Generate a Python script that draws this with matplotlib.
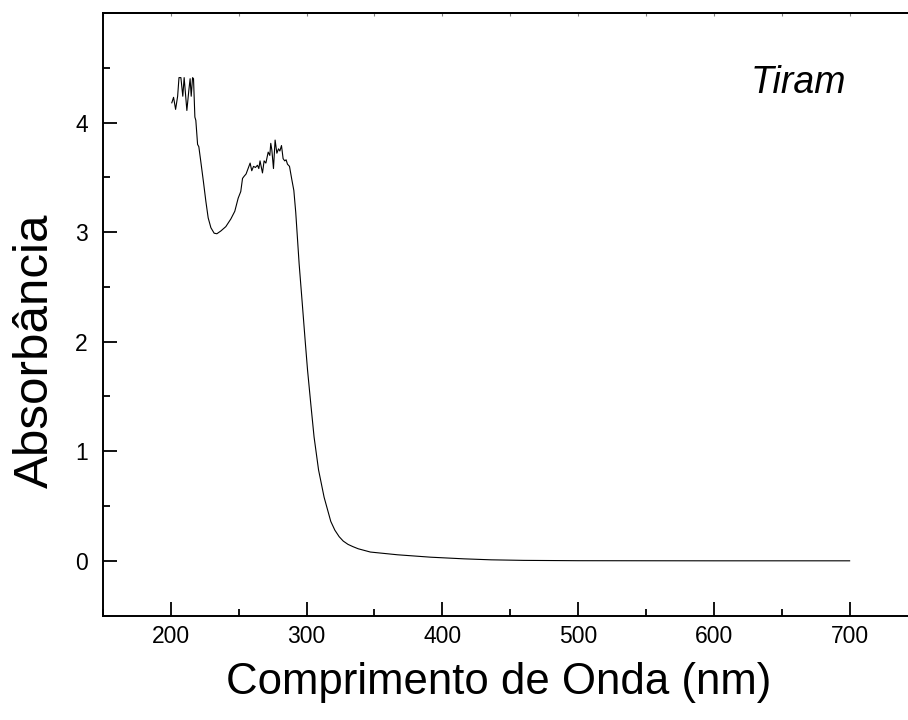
import matplotlib.pyplot as plt
from matplotlib.ticker import MultipleLocator

plt.rcParams['font.family'] = ['Liberation Sans', 'DejaVu Sans']

# espectro UV-Vis do Tiram
comprimento = [200.7, 202.0, 203.5, 205.0, 206.0, 207.4, 208.8, 209.8, 211.8, 213.3,
               214.2, 215.0, 216.0, 216.7, 217.7, 218.4, 219.7, 220.6, 222.0, 224.0,
               225.8, 227.5, 229.5, 231.9, 233.9, 236.8, 240.5, 244.2, 247.1, 249.6,
               251.5, 252.8, 254.0, 255.4, 256.9, 258.4, 259.6, 260.9, 262.3, 263.8,
               264.8, 265.7, 267.5, 268.7, 270.0, 271.7, 272.9, 273.6, 274.4, 275.6,
               276.8, 278.1, 279.3, 280.3, 281.5, 282.7, 283.9, 284.9, 285.9, 287.4,
               289.1, 290.6, 292.0, 294.5, 296.8, 299.0, 300.7, 303.1, 305.5, 308.8,
               312.9, 317.8, 320.8, 324.0, 327.0, 330.5, 334.0, 338.0, 347.0, 367.0,
               391.5, 416.0, 436.0, 460.0, 500.0, 550.0, 600.0, 650.0, 700.0]
absorbancia = [4.18, 4.23, 4.12, 4.24, 4.41, 4.41, 4.24, 4.41, 4.11, 4.30,
               4.40, 4.24, 4.41, 4.40, 4.05, 4.02, 3.80, 3.78, 3.65, 3.46,
               3.28, 3.13, 3.04, 2.99, 2.985, 3.01, 3.05, 3.12, 3.19, 3.31,
               3.37, 3.49, 3.51, 3.53, 3.58, 3.63, 3.56, 3.60, 3.59, 3.61,
               3.58, 3.65, 3.54, 3.65, 3.63, 3.73, 3.70, 3.81, 3.75, 3.58,
               3.84, 3.72, 3.76, 3.74, 3.79, 3.67, 3.65, 3.66, 3.62, 3.60,
               3.48, 3.38, 3.18, 2.71, 2.35, 2.00, 1.74, 1.43, 1.13, 0.83,
               0.58, 0.36, 0.28, 0.22, 0.18, 0.15, 0.13, 0.11, 0.08, 0.055,
               0.033, 0.018, 0.009, 0.004, 0.001, 0.0005, 0.0, 0.0, 0.0]

fig = plt.figure(figsize=(9.08, 7.2), dpi=100)
ax = fig.add_axes([0.1134, 0.145, 0.8866, 0.837])

ax.plot(comprimento, absorbancia, color='black', lw=0.8)

ax.set_xlim(150, 743)
ax.set_ylim(-0.5, 5.0)
ax.xaxis.set_major_locator(MultipleLocator(100))
ax.xaxis.set_minor_locator(MultipleLocator(50))
ax.yaxis.set_minor_locator(MultipleLocator(0.5))
ax.set_yticks([0, 1, 2, 3, 4])

ax.spines['right'].set_visible(False)
for s in ['left', 'bottom', 'top']:
    ax.spines[s].set_linewidth(1.4)

ax.tick_params(which='major', direction='in', length=10, width=1.3, labelsize=16.5)
ax.tick_params(which='minor', direction='in', length=5, width=1.3)
ax.tick_params(axis='x', which='both', pad=7)
ax.tick_params(axis='y', which='major', pad=11)

# tiques bem curtos no eixo de cima
topo = ax.secondary_xaxis('top')
topo.xaxis.set_major_locator(MultipleLocator(100))
topo.xaxis.set_minor_locator(MultipleLocator(50))
topo.tick_params(which='both', direction='in', length=2, width=0.8, color='0.5', labeltop=False)
topo.spines['top'].set_linewidth(1.4)

ax.set_xlabel('Comprimento de Onda (nm)', fontsize=31.5, labelpad=10)
ax.xaxis.label.set_x(0.492)
ax.set_ylabel('Absorbância', fontsize=35.5, va='center')
ax.yaxis.set_label_coords(-0.084, 0.439)

ax.text(0.923, 0.884, 'Tiram', transform=ax.transAxes, fontsize=27,
        style='italic', ha='right', va='center')

fig.savefig('out.png', dpi=100)
